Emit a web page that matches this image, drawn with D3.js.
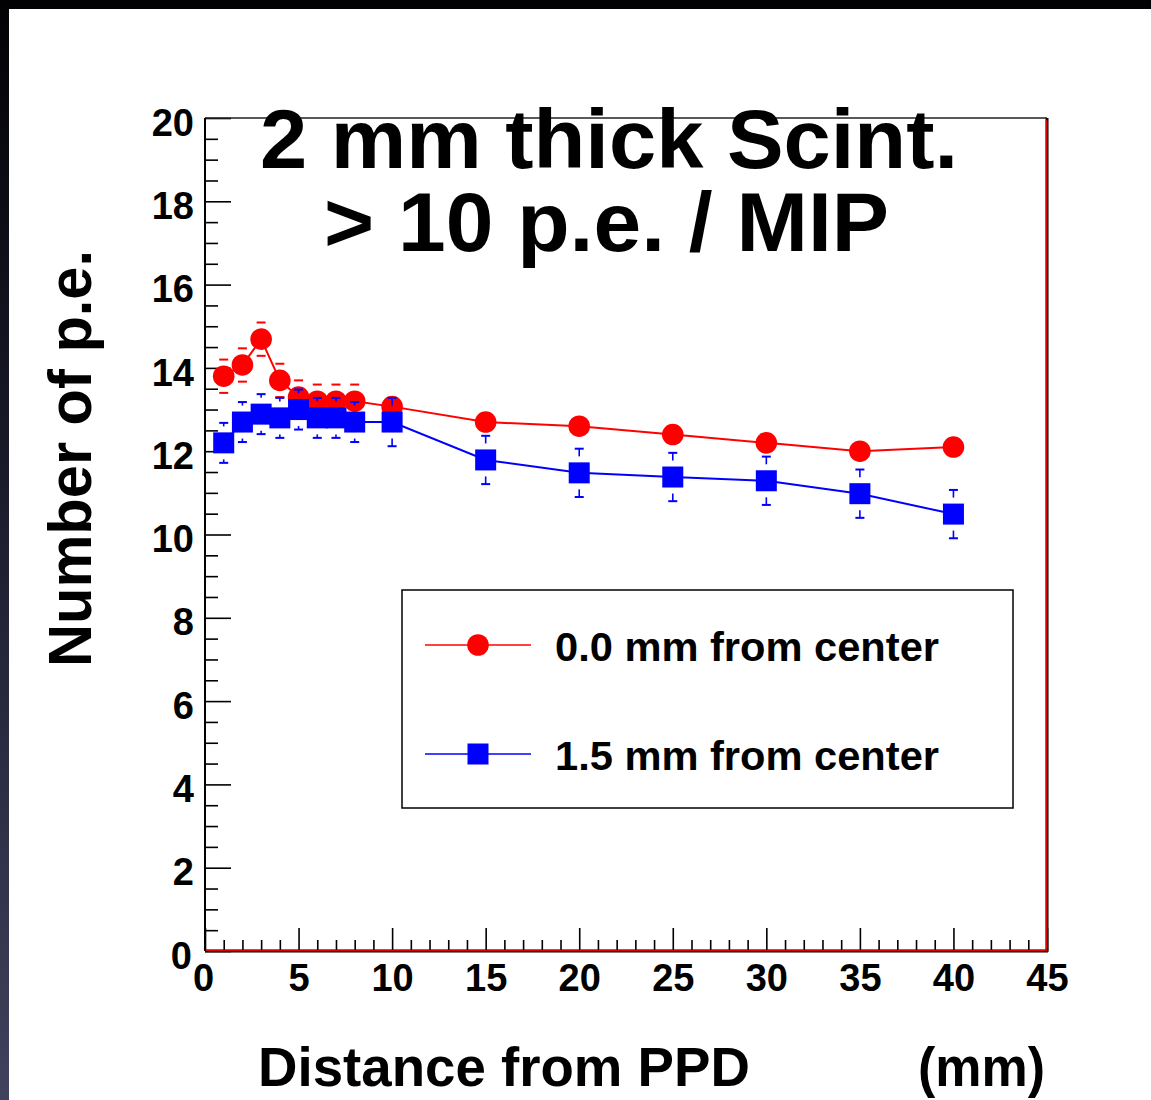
<!DOCTYPE html>
<html>
<head>
<meta charset="utf-8">
<script src="https://cdn.jsdelivr.net/npm/d3@7"></script>
<style>
  html, body { margin: 0; padding: 0; background: #fff; }
  svg { display: block; }
  text { font-family: "Liberation Sans", Arial, Helvetica, sans-serif; font-weight: bold; fill: #000; }
</style>
</head>
<body>
<svg id="chart" width="1151" height="1100"></svg>
<script>
// ---------------- data ----------------
const distances = [1, 2, 3, 4, 5, 6, 7, 8, 10, 15, 20, 25, 30, 35, 40];
const pe_center00 = [13.8, 14.07, 14.69, 13.7, 13.3, 13.2, 13.2, 13.2, 13.07, 12.7, 12.6, 12.4, 12.2, 12.0, 12.1];
const err_center00 = [0.4, 0.4, 0.4, 0.4, 0.4, 0.4, 0.4, 0.4, 0, 0, 0, 0, 0, 0, 0];
const pe_center15 = [12.2, 12.7, 12.89, 12.8, 13.0, 12.8, 12.8, 12.7, 12.7, 11.79, 11.48, 11.38, 11.29, 10.98, 10.49];
const err_center15 = [0.48, 0.48, 0.48, 0.48, 0.48, 0.48, 0.48, 0.48, 0.58, 0.58, 0.58, 0.58, 0.58, 0.58, 0.58];
const xMajorTicks = [0, 5, 10, 15, 20, 25, 30, 35, 40, 45];
const yMajorTicks = [0, 2, 4, 6, 8, 10, 12, 14, 16, 18, 20];
const titleLines = ["2 mm thick Scint.", "> 10 p.e. / MIP"];
const legendLabels = ["0.0 mm from center", "1.5 mm from center"];
const xAxisTitle = "Distance from PPD";
const xAxisUnit = "(mm)";
const yAxisTitle = "Number of p.e.";

// ---------------- layout ----------------
const W = 1151, H = 1100;
const L = 205, R = 1047, T = 118, B = 951;
const svg = d3.select("#chart");

// page decoration: dark bars at top and left
const defs = svg.append("defs");
const grad = defs.append("linearGradient").attr("id", "leftGrad")
  .attr("x1", 0).attr("y1", 0).attr("x2", 0).attr("y2", 1);
grad.append("stop").attr("offset", "0%").attr("stop-color", "#020205");
grad.append("stop").attr("offset", "45%").attr("stop-color", "#1b1c2c");
grad.append("stop").attr("offset", "100%").attr("stop-color", "#40425e");
svg.append("rect").attr("x", 0).attr("y", 0).attr("width", 9).attr("height", H).attr("fill", "url(#leftGrad)");
svg.append("rect").attr("x", 0).attr("y", 0).attr("width", W).attr("height", 9).attr("fill", "#020204");

const x = d3.scaleLinear().domain([0, 45]).range([L, R]);
const y = d3.scaleLinear().domain([0, 20]).range([B, T]);

// ---------------- axes ----------------
const xMinor = d3.range(0, 46, 1).filter(v => v % 5 !== 0);
const yMinor = d3.range(0, 20.01, 0.5).filter(v => Math.abs(v / 2 - Math.round(v / 2)) > 1e-6);

const gxMinor = svg.append("g").attr("transform", `translate(0,${B})`)
  .call(d3.axisBottom(x).tickValues(xMinor).tickSize(-11).tickFormat(""));
const gx = svg.append("g").attr("transform", `translate(0,${B})`)
  .call(d3.axisBottom(x).tickValues(xMajorTicks).tickSize(-23).tickPadding(13).tickFormat(d3.format("d")));
const gyMinor = svg.append("g").attr("transform", `translate(${L},0)`)
  .call(d3.axisLeft(y).tickValues(yMinor).tickSize(-13).tickFormat(""));
const gy = svg.append("g").attr("transform", `translate(${L},0)`)
  .call(d3.axisLeft(y).tickValues(yMajorTicks).tickSize(-26).tickPadding(11).tickFormat(d3.format("d")));

[gxMinor, gx, gyMinor, gy].forEach(g => {
  g.select(".domain").remove();
  g.selectAll(".tick line").attr("stroke", "#000").attr("stroke-width", 1.6);
});
gx.selectAll(".tick text").attr("font-size", 38).attr("font-family", "Liberation Sans, Arial, sans-serif")
  .attr("font-weight", "bold").attr("fill", "#000").attr("dy", "0.71em");
gx.selectAll(".tick").filter(d => d === 0).select("text").attr("dx", -2);
gy.selectAll(".tick text").attr("font-size", 38).attr("font-family", "Liberation Sans, Arial, sans-serif")
  .attr("font-weight", "bold").attr("fill", "#000").attr("dy", "0.45em");
gy.selectAll(".tick").filter(d => d === 0).select("text").attr("dx", -2).attr("dy", "0.45em");

// frame
svg.append("line").attr("x1", L).attr("x2", R).attr("y1", T).attr("y2", T).attr("stroke", "#222").attr("stroke-width", 1.5);
svg.append("line").attr("x1", L).attr("x2", L).attr("y1", T).attr("y2", B).attr("stroke", "#000").attr("stroke-width", 2);
svg.append("line").attr("x1", R).attr("x2", R).attr("y1", T).attr("y2", B + 1).attr("stroke", "#000").attr("stroke-width", 3);
svg.append("line").attr("x1", L).attr("x2", R + 1).attr("y1", B).attr("y2", B).attr("stroke", "#000").attr("stroke-width", 3);
svg.append("line").attr("x1", R - 0.5).attr("x2", R - 0.5).attr("y1", T + 2).attr("y2", B).attr("stroke", "#e00000").attr("stroke-width", 1.5);
svg.append("line").attr("x1", L + 1).attr("x2", R).attr("y1", B - 0.5).attr("y2", B - 0.5).attr("stroke", "#e00000").attr("stroke-width", 1.5);

// ---------------- series ----------------
const series = [
  { values: pe_center00, errors: err_center00, color: "#ff0000", marker: "circle", half: 10.8 },
  { values: pe_center15, errors: err_center15, color: "#0000ff", marker: "square", half: 10.5 }
];

const lineGen = d3.line().x(d => x(d[0])).y(d => y(d[1]));

series.forEach(s => {
  const pts = distances.map((d, i) => [d, s.values[i], s.errors[i]]);
  const g = svg.append("g");
  g.append("path").datum(pts).attr("d", lineGen).attr("fill", "none")
    .attr("stroke", s.color).attr("stroke-width", 2);

  // error bars (ROOT style: stem outside the marker plus a cap)
  pts.forEach(p => {
    if (!p[2]) return;
    const cx = x(p[0]), cy = y(p[1]);
    const epx = y(p[1] - p[2]) - cy;
    const gap = s.half + 6;
    [-1, 1].forEach(sg => {
      const capY = cy + sg * epx;
      g.append("line").attr("x1", cx - 4.5).attr("x2", cx + 4.5).attr("y1", capY).attr("y2", capY)
        .attr("stroke", s.color).attr("stroke-width", 2);
      if (epx > gap) {
        g.append("line").attr("x1", cx).attr("x2", cx).attr("y1", capY).attr("y2", cy + sg * gap)
          .attr("stroke", s.color).attr("stroke-width", 1.6);
      }
    });
  });

  // markers
  if (s.marker === "circle") {
    g.selectAll("circle.m").data(pts).join("circle").attr("class", "m")
      .attr("cx", d => x(d[0])).attr("cy", d => y(d[1])).attr("r", s.half).attr("fill", s.color);
  } else {
    g.selectAll("rect.m").data(pts).join("rect").attr("class", "m")
      .attr("x", d => x(d[0]) - s.half).attr("y", d => y(d[1]) - s.half)
      .attr("width", 2 * s.half).attr("height", 2 * s.half).attr("fill", s.color);
  }
});

// ---------------- legend ----------------
const lg = svg.append("g");
lg.append("rect").attr("x", 402).attr("y", 590).attr("width", 611).attr("height", 218)
  .attr("fill", "#fff").attr("stroke", "#000").attr("stroke-width", 1.5);
const legendRows = [645, 754];
series.forEach((s, i) => {
  const ly = legendRows[i];
  lg.append("line").attr("x1", 425).attr("x2", 531).attr("y1", ly).attr("y2", ly)
    .attr("stroke", s.color).attr("stroke-width", 1.4);
  if (s.marker === "circle") {
    lg.append("circle").attr("cx", 478).attr("cy", ly).attr("r", s.half).attr("fill", s.color);
  } else {
    lg.append("rect").attr("x", 478 - s.half).attr("y", ly - s.half).attr("width", 2 * s.half)
      .attr("height", 2 * s.half).attr("fill", s.color);
  }
  lg.append("text").attr("x", 555).attr("y", ly + 16).attr("font-size", 40)
    .attr("textLength", 384).attr("lengthAdjust", "spacingAndGlyphs").text(legendLabels[i]);
});

// ---------------- titles ----------------
const title = svg.append("text").attr("font-size", 83).attr("text-anchor", "middle");
title.append("tspan").attr("x", 609).attr("y", 168)
  .attr("textLength", 698).attr("lengthAdjust", "spacingAndGlyphs").text(titleLines[0]);
title.append("tspan").attr("x", 606.5).attr("y", 251)
  .attr("textLength", 565).attr("lengthAdjust", "spacingAndGlyphs").text(titleLines[1]);

svg.append("text").attr("x", 258).attr("y", 1086).attr("font-size", 56)
  .attr("textLength", 492).attr("lengthAdjust", "spacingAndGlyphs").text(xAxisTitle);
svg.append("text").attr("x", 918).attr("y", 1086).attr("font-size", 56)
  .attr("textLength", 127).attr("lengthAdjust", "spacingAndGlyphs").text(xAxisUnit);

svg.append("text").attr("transform", "translate(91,667) rotate(-90)").attr("font-size", 61)
  .attr("textLength", 417).attr("lengthAdjust", "spacingAndGlyphs").text(yAxisTitle);
</script>
</body>
</html>
